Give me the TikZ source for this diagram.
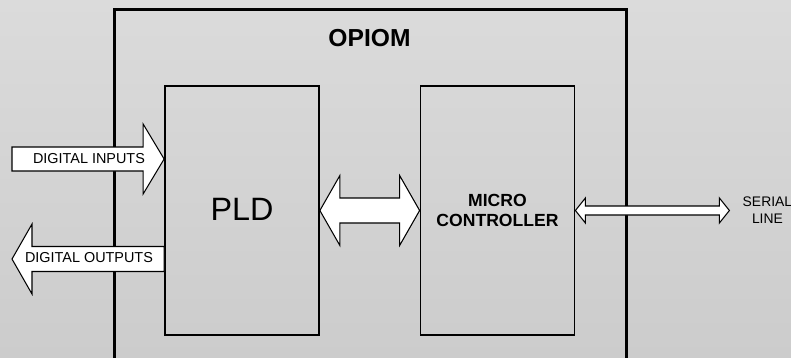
\documentclass[tikz,border=0pt]{standalone}
\usepackage{fontspec}
\setmainfont{Liberation Sans}
\usepackage{tikz}
\usetikzlibrary{positioning,calc}
\definecolor{bgtop}{RGB}{219,219,219}
\definecolor{bgbot}{RGB}{204,204,204}

\begin{document}
\begin{tikzpicture}[
  box/.style={draw, line width=1pt, minimum width=3.08cm, minimum height=4.98cm, align=center},
  frame/.style={draw, line width=1.7pt, minimum width=10.24cm, minimum height=8.3cm},
  fat/.style={draw, fill=white, line width=0.6pt, line join=miter},
  lbl/.style={align=center, inner sep=0pt, font=\fontsize{8.2}{9.8}\selectfont}
]

\useasboundingbox (0,0) rectangle (15.82,-7.16);
\shade[top color=bgtop, bottom color=bgbot] (0,0) rectangle (15.82,-7.16);
\clip (0,0) rectangle (15.82,-7.16);

\node[frame] (opiom) at (7.41,-4.34) {};
\node[font=\fontsize{14}{16}\selectfont\bfseries] (title) at (7.39,-0.77) {OPIOM};

\node[box, font=\fontsize{18.4}{22}\selectfont] (pld) at (4.84,-4.21) {\raisebox{0.06cm}{PLD}};
\node[box, font=\fontsize{10}{11.6}\selectfont\bfseries] (mcu) at (9.95,-4.21) {MICRO\\CONTROLLER};

% inputs / outputs on the left
\coordinate (inL) at (0.24,-3.18);
\coordinate (inT) at (pld.west |- inL);
\draw[fat] (inT) -- ++(-0.42,0.7) -- ++(0,-0.46) -- ([yshift=0.24cm]inL) -- ([yshift=-0.24cm]inL) -- ([shift={(-0.42,-0.24)}]inT) -- ++(0,-0.46) -- cycle;

\coordinate (outL) at (0.24,-5.18);
\coordinate (outR) at (pld.west |- outL);
\draw[fat] (outL) -- ++(0.4,0.7) -- ++(0,-0.45) -- ([yshift=0.25cm]outR) -- ([yshift=-0.25cm]outR) -- ([shift={(0.4,-0.25)}]outL) -- ++(0,-0.45) -- cycle;

% PLD <-> micro
\draw[fat] (pld.east) -- ++(0.4,0.7) -- ++(0,-0.45) -- ([shift={(-0.4,0.25)}]mcu.west) -- ++(0,0.45) -- (mcu.west) -- ++(-0.4,-0.7) -- ++(0,0.45) -- ([shift={(0.4,-0.25)}]pld.east) -- ++(0,-0.45) -- cycle;

% serial line
\coordinate (serR) at ([xshift=3.08cm]mcu.east);
\draw[fat] (mcu.east) -- ++(0.2,0.25) -- ++(0,-0.16) -- ([shift={(-0.2,0.09)}]serR) -- ++(0,0.16) -- (serR) -- ++(-0.2,-0.25) -- ++(0,0.16) -- ([shift={(0.2,-0.09)}]mcu.east) -- ++(0,-0.16) -- cycle;

\node[lbl] (din) at (1.78,-3.18) {DIGITAL INPUTS};
\node[lbl] (dout) at (1.78,-5.16) {DIGITAL OUTPUTS};
\node[lbl, anchor=west, font=\fontsize{7.9}{9.7}\selectfont] (serial) at ([xshift=0.26cm]serR) {SERIAL\\LINE};

\end{tikzpicture}
\end{document}
